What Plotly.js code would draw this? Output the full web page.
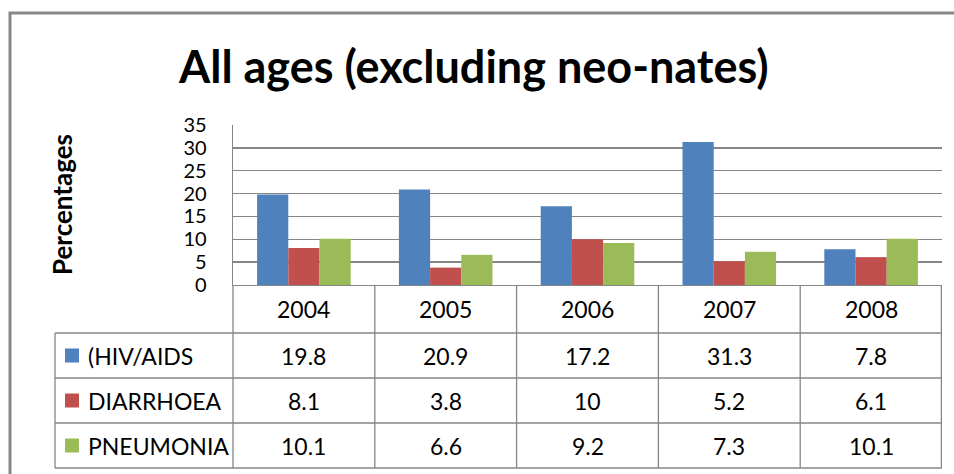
<!DOCTYPE html>
<html>
<head>
<meta charset="utf-8">
<script src="https://cdn.plot.ly/plotly-3.0.1.min.js"></script>
<style>html,body{margin:0;padding:0;background:#fff;}#chart{width:954px;height:474px;}</style>
</head>
<body>
<div id="chart"></div>
<script>
// ---- data ----
const years = ["2004", "2005", "2006", "2007", "2008"];
const seriesNames = ["(HIV/AIDS", "DIARRHOEA", "PNEUMONIA"];
const hivAids = [19.8, 20.9, 17.2, 31.3, 7.8];
const diarrhoea = [8.1, 3.8, 10, 5.2, 6.1];
const pneumonia = [10.1, 6.6, 9.2, 7.3, 10.1];
const yTicks = [0, 5, 10, 15, 20, 25, 30, 35];

// ---- layout geometry (pixels) ----
const W = 954, H = 474;
const L = 233, R = 942, T = 125, B = 285;
const pw = R - L, ph = B - T;
const px = X => (X - L) / pw;
const py = Y => (B - Y) / ph;

const colors = ["#4F81BD", "#C0504D", "#9BBB59"];
const gridCol = "#868686";
const FONT = "Lato, 'Open Sans', sans-serif";

const seriesValues = [hivAids, diarrhoea, pneumonia];
const traces = seriesValues.map((vals, i) => ({
  type: "bar", x: years, y: vals, name: seriesNames[i],
  marker: {color: colors[i], line: {width: 0}}, hoverinfo: "skip"
}));

const headTop = B, headBot = 333;
const rowBounds = [333, 378, 423, 468];
const tableLeft = 55;

const shapes = [];
const line = (x0, y0, x1, y1, xref, w) => shapes.push({
  type: "line", xref: xref || "paper", yref: "paper",
  x0, y0, x1, y1, line: {color: gridCol, width: w || 1.3}, layer: "above"
});
rowBounds.forEach(Y => line(px(tableLeft), py(Y), 1, py(Y)));
line(px(tableLeft), py(rowBounds[0]), px(tableLeft), py(rowBounds[3]));
line(0, py(B), 0, py(rowBounds[3]));
for (let k = 0; k < years.length; k++) {
  const xb = k + 0.5;
  shapes.push({type: "line", xref: "x", yref: "paper", x0: xb, x1: xb,
    y0: py(B), y1: py(rowBounds[3]), line: {color: gridCol, width: k === years.length - 1 ? 2.5 : 1.3}, layer: "above"});
}
shapes.push({type: "rect", xref: "paper", yref: "paper",
  x0: px(10), x1: px(980), y0: py(13), y1: py(500),
  line: {color: "#878787", width: 3}, fillcolor: "rgba(0,0,0,0)", layer: "below"});

const rowCenters = [0, 1, 2].map(i => (rowBounds[i] + rowBounds[i + 1]) / 2);
rowCenters.forEach((Yc, i) => shapes.push({
  type: "rect", xref: "paper", yref: "paper",
  x0: px(65), x1: px(79), y0: py(Yc - 7), y1: py(Yc + 7),
  line: {width: 0}, fillcolor: colors[i], layer: "above"
}));

const annotations = [];
annotations.push({text: "<b>All ages (excluding neo-nates)</b>", xref: "paper", yref: "paper",
  x: px(473), y: py(66), xanchor: "center", yanchor: "middle", showarrow: false,
  font: {family: FONT, size: 45, color: "#000"}});
annotations.push({text: "<b>Percentages</b>", xref: "paper", yref: "paper",
  x: px(62), y: py(205), xanchor: "center", yanchor: "middle", textangle: -90, showarrow: false,
  font: {family: FONT, size: 26, color: "#000"}});
years.forEach((yr, j) => annotations.push({text: yr, xref: "x", yref: "paper", x: j,
  y: py((headTop + headBot) / 2), xanchor: "center", yanchor: "middle", showarrow: false,
  font: {family: FONT, size: 23, color: "#000"}}));
seriesValues.forEach((vals, i) => {
  annotations.push({text: seriesNames[i], xref: "paper", yref: "paper", x: px(86),
    y: py(rowCenters[i]), xanchor: "left", yanchor: "middle", showarrow: false,
    font: {family: FONT, size: 23, color: "#000"}});
  vals.forEach((v, j) => annotations.push({text: String(v), xref: "x", yref: "paper", x: j,
    y: py(rowCenters[i]), xanchor: "center", yanchor: "middle", showarrow: false,
    font: {family: FONT, size: 23, color: "#000"}}));
});

const layout = {
  width: W, height: H,
  margin: {l: L, r: W - R, t: T, b: H - B, pad: 0},
  paper_bgcolor: "#fff", plot_bgcolor: "#fff",
  showlegend: false,
  barmode: "group", bargap: 0.34, bargroupgap: 0,
  xaxis: {type: "category", range: [-0.5, 4.5], showticklabels: false, showgrid: false,
    showline: true, linecolor: gridCol, linewidth: 1.3, ticks: "", zeroline: false, fixedrange: true},
  yaxis: {range: [0, 35], tickvals: yTicks, ticktext: yTicks.map(String), showgrid: true,
    gridcolor: gridCol, gridwidth: 1.3, showline: true, linecolor: gridCol, linewidth: 1.3,
    ticks: "outside", ticklen: 21, tickcolor: "rgba(0,0,0,0)", zeroline: false,
    tickfont: {family: FONT, size: 20, color: "#000"}, fixedrange: true},
  shapes, annotations
};

Plotly.newPlot("chart", traces, layout, {staticPlot: true, displayModeBar: false});
</script>
</body>
</html>
